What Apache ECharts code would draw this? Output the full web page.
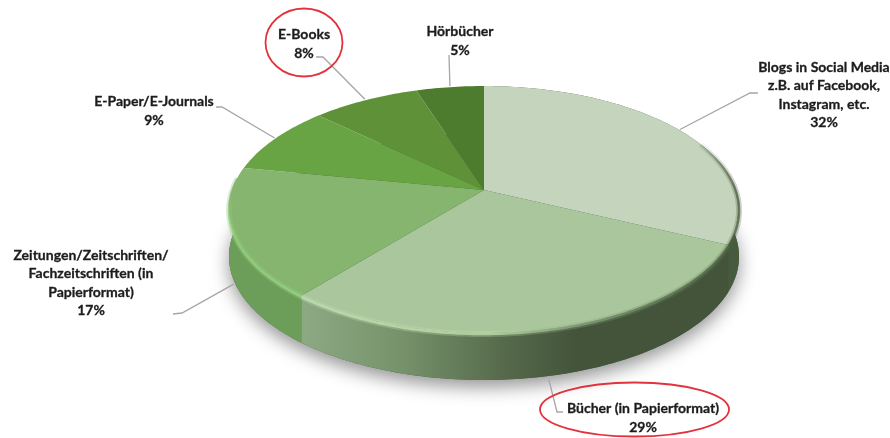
<!DOCTYPE html>
<html>
<head>
<meta charset="utf-8">
<style>
  html, body { margin: 0; padding: 0; background: #fff; }
  #chart { width: 890px; height: 438px; }
</style>
</head>
<body>
<div id="chart"></div>
<script src="https://cdn.jsdelivr.net/npm/echarts@6/dist/echarts.min.js"></script>
<script>
// values (percent)
const categories = ['Blogs in Social Media\nz.B. auf Facebook,\nInstagram, etc.', 'Bücher (in Papierformat)', 'Zeitungen/Zeitschriften/\nFachzeitschriften (in\nPapierformat)', 'E-Paper/E-Journals', 'E-Books', 'Hörbücher']
const values = [32, 29, 17, 9, 8, 5]

// styles and label layout, same order as categories
const topColors = ['#c5d5bd', '#a9c69c', '#86b56f', '#69a444', '#5f9238', '#4d7c2f']
const labelCenters = [[824, 95], [643, 418], [91, 283], [154, 111], [304, 44], [460, 41]]
const leaderElbows = [[[750, 93], [758, 93]], [[557, 412], [563, 412]], [[182, 313], [173, 314]], [[222, 107], [216, 107]], [[323, 57], [316, 57]], [[449, 55]]]

// the tilted pie: apex, radius on screen and perspective of the tilt
const apexX = 484, apexY = 190
const scaleX = 251.8, scaleY = 120.4, persp = 0.158
const wallDepth = 47

const total = values.reduce((a, b) => a + b, 0)

function rimPoint(angle, dy) {
  // angle clockwise from 12 o'clock, in degrees
  const rad = angle * Math.PI / 180
  const u = Math.sin(rad), v = Math.cos(rad)
  const w = 1 + persp * v
  return [apexX + scaleX * u / w, apexY - scaleY * v / w + (dy || 0)]
}

function arcPoints(from, to, dy) {
  const pts = []
  const n = Math.max(2, Math.ceil(Math.abs(to - from)))
  for (let i = 0; i <= n; i++) {
    pts.push(rimPoint(from + (to - from) * i / n, dy))
  }
  return pts
}

function sliceAngles(index) {
  let sum = 0
  for (let i = 0; i < index; i++) sum += values[i]
  return [sum / total * 360, (sum + values[index]) / total * 360]
}

const gradient = (x0, y0, x1, y1, stops) => new echarts.graphic.LinearGradient(x0, y0, x1, y1, stops, true)

const sliceData = values.map((v, i) => [i, v])

function renderShadow(params, api) {
  if (params.dataIndex > 0) return null
  return {
    type: 'polygon',
    shape: { points: arcPoints(0, 360, wallDepth) },
    style: { fill: '#4a5c42', shadowBlur: 18, shadowOffsetY: 7, shadowColor: 'rgba(0,0,0,0.42)' }
  }
}

function wallFill(i) {
  if (i === 0) return '#465a3e'
  if (i === 1) {
    return gradient(303, 0, 575, 0, [
      { offset: 0, color: '#8ba983' },
      { offset: 0.35, color: '#77936c' },
      { offset: 0.75, color: '#55694a' },
      { offset: 1, color: '#43543b' }
    ])
  }
  if (i === 2) return '#6d9e59'
  return '#4a5c42'
}

function renderWall(params, api) {
  const i = api.value(0)
  const [a, b] = sliceAngles(i)
  if (i > 2) return null
  const top = arcPoints(a, b, 0)
  const bottom = arcPoints(b, a, wallDepth)
  return { type: 'polygon', shape: { points: top.concat(bottom) }, style: { fill: wallFill(i) } }
}

function renderTop(params, api) {
  const i = api.value(0)
  const [a, b] = sliceAngles(i)
  return {
    type: 'polygon',
    shape: { points: [[apexX, apexY]].concat(arcPoints(a, b, 0)) },
    style: { fill: topColors[i] }
  }
}

// soft rim: a wide faint stroke under a narrow one
function softRim(points, stroke) {
  return {
    type: 'group',
    children: [
      { type: 'polyline', shape: { points }, style: { fill: null, stroke, lineWidth: 6, opacity: 0.28 } },
      { type: 'polyline', shape: { points }, style: { fill: null, stroke, lineWidth: 2.5, opacity: 0.75 } }
    ]
  }
}

function renderBevel(params, api) {
  const i = api.value(0)
  const [a, b] = sliceAngles(i)
  if (i === 0) {
    return softRim(arcPoints(66, b, 1), gradient(690, 0, 738, 0, [
      { offset: 0, color: 'rgba(75,95,65,0)' },
      { offset: 1, color: 'rgba(75,95,65,1)' }
    ]))
  }
  if (i === 1) {
    return softRim(arcPoints(a, b, 1), gradient(303, 0, 725, 0, [
      { offset: 0, color: '#c8e4b8' },
      { offset: 0.45, color: '#c0e0ae' },
      { offset: 0.62, color: '#93b086' },
      { offset: 0.82, color: '#6d8762' },
      { offset: 1, color: '#566d4c' }
    ]))
  }
  if (i === 2) {
    return softRim(arcPoints(a, 276, 1), gradient(0, 195, 0, 290, [
      { offset: 0, color: '#86b56f' },
      { offset: 0.35, color: '#94d27d' },
      { offset: 1, color: '#9ad687' }
    ]))
  }
  return null
}

function renderLabel(params, api) {
  const i = api.value(0)
  const [a, b] = sliceAngles(i)
  const mid = (a + b) / 2
  // front slices hang their leader from the lower edge of the wall
  const start = rimPoint(mid, (i === 1 || i === 2) ? wallDepth + 4 : -1)
  const line = [start].concat(leaderElbows[i])
  return {
    type: 'group',
    children: [
      {
        type: 'polyline',
        shape: { points: line },
        style: { fill: null, stroke: '#a6a6a6', lineWidth: 1.3 }
      },
      {
        type: 'text',
        style: {
          text: categories[i] + '\n' + api.value(1) + '%',
          x: labelCenters[i][0],
          y: labelCenters[i][1],
          align: 'center',
          verticalAlign: 'middle',
          lineHeight: 18.6,
          fill: '#1c1c1c',
          stroke: '#1c1c1c',
          lineWidth: 0.3,
          font: 'bold 14px Lato, sans-serif'
        }
      }
    ]
  }
}

const base = { type: 'custom', coordinateSystem: 'none', data: sliceData, silent: true, animation: false }

const chart = echarts.init(document.getElementById('chart'), null, { renderer: 'canvas' })
chart.setOption({
  backgroundColor: '#ffffff',
  animation: false,
  series: [
    Object.assign({}, base, { renderItem: renderShadow, z: 1 }),
    Object.assign({}, base, { renderItem: renderWall, z: 2 }),
    Object.assign({}, base, { renderItem: renderTop, z: 3 }),
    Object.assign({}, base, { renderItem: renderBevel, z: 4 }),
    Object.assign({}, base, { renderItem: renderLabel, z: 5 })
  ],
  // the red highlight rings around two labels
  graphic: [
    { type: 'ellipse', silent: true, z: 10, shape: { cx: 304, cy: 42.5, rx: 38.5, ry: 34 }, style: { fill: null, stroke: '#e2333d', lineWidth: 1.8 } },
    { type: 'ellipse', silent: true, z: 10, shape: { cx: 634.5, cy: 409.5, rx: 94.5, ry: 27 }, style: { fill: null, stroke: '#e2333d', lineWidth: 1.8 } }
  ]
})
</script>
</body>
</html>
